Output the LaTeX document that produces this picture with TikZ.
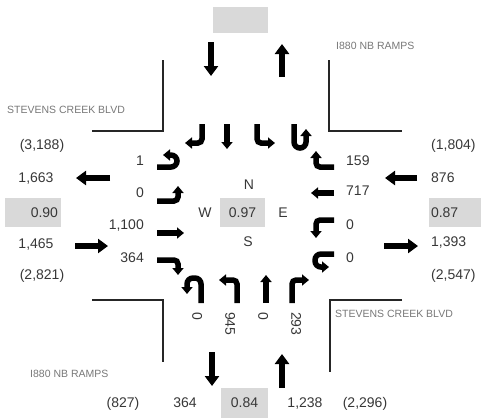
\documentclass[tikz,border=0pt]{standalone}
\usepackage{fontspec}
\setmainfont{Liberation Sans}
\usepackage{tikz}
\usetikzlibrary{positioning,arrows.meta}
\definecolor{boxgray}{RGB}{217,217,217}
\definecolor{txtgray}{RGB}{55,55,55}
\definecolor{lblgray}{RGB}{120,120,120}

\begin{document}
\begin{tikzpicture}[x=1pt, y=-1pt,
  num/.style={font=\fontsize{14}{16}\selectfont, text=txtgray, inner sep=0pt},
  street/.style={font=\fontsize{10.5}{12}\selectfont, text=lblgray, inner sep=0pt},
  vc/.style={num, fill=boxgray, minimum height=29pt},
  curb/.style={line width=2pt, draw=black!85},
  big/.style={line width=6.5pt, -{Triangle[width=14pt,length=10pt]}},
  turn/.style={line width=5.5pt, rounded corners=4pt, -{Triangle[width=11pt,length=7pt]}},
  uturn/.style={turn, rounded corners=6pt}]
  \useasboundingbox (0,0) rectangle (481,418);

  % curb corners
  \draw[curb] (163,60) -- (163,131) -- (92,131);
  \draw[curb] (329,60) -- (329,131) -- (402,131);
  \draw[curb] (92,300) -- (163,300) -- (163,362);
  \draw[curb] (402,300) -- (330,300) -- (330,372);

  % street names
  \node[street, anchor=mid west] (stevw) at (7,111) {STEVENS CREEK BLVD};
  \node[street, anchor=mid west] (stevo) at (335,315) {STEVENS CREEK BLVD};
  \node[street, anchor=mid west] (rampn) at (336,47) {I880 NB RAMPS};
  \node[street, anchor=mid west] (ramps) at (30,375) {I880 NB RAMPS};

  % v/c boxes
  \node[vc, minimum width=55pt, minimum height=26pt] (vcn) at (240.5,20) {};
  \node[vc, minimum width=56pt, text width=50pt, align=right] (vcw) at (33,212.5) {0.90};
  \node[vc, minimum width=52pt, text width=48pt, align=left] (vco) at (455,212.5) {0.87};
  \node[vc, minimum width=45pt] (ctr) at (242.5,212.5) {0.97};
  \node[vc, minimum width=47pt, minimum height=30pt] (vcs) at (244.5,403) {0.84};

  % compass
  \node[num, anchor=mid] (nord) at (249,187) {N};
  \node[num, anchor=mid] (sued) at (248,244) {S};
  \node[num, anchor=mid east, left=8pt of ctr.west] (west) {W};
  \node[num, anchor=mid west, right=13pt of ctr.east] (ost) {E};

  % approach volumes, west side
  \node[num, anchor=mid] (w1) at (42,147) {(3,188)};
  \node[num, anchor=mid] (w2) at (36,180) {1,663};
  \node[num, anchor=mid] (w3) at (36,246) {1,465};
  \node[num, anchor=mid] (w4) at (42,277) {(2,821)};
  \draw[big] (110,178) -- (76,178);
  \draw[big] (75,246) -- (108,246);

  % approach volumes, east side
  \node[num, anchor=mid west] (o1) at (431,147) {(1,804)};
  \node[num, anchor=mid west] (o2) at (431,180) {876};
  \node[num, anchor=mid west] (o3) at (431,244) {1,393};
  \node[num, anchor=mid west] (o4) at (431,277) {(2,547)};
  \draw[big] (417,178) -- (385,178);
  \draw[big] (384,246) -- (418,246);

  % north and south legs
  \draw[big] (211,42) -- (211,76);
  \draw[big] (282,77) -- (282,44);
  \draw[big] (212,352) -- (212,386);
  \draw[big] (282,388) -- (282,354);
  \node[num, anchor=mid] (s1) at (123,405) {(827)};
  \node[num, anchor=mid] (s2) at (185,405) {364};
  \node[num, anchor=mid] (s3) at (305,405) {1,238};
  \node[num, anchor=mid] (s4) at (365,405) {(2,296)};

  % eastbound turns
  \node[num, anchor=mid east] (eb1) at (144,163) {1};
  \node[num, anchor=mid east] (eb2) at (144,195) {0};
  \node[num, anchor=mid east] (eb3) at (144,227) {1,100};
  \node[num, anchor=mid east] (eb4) at (144,260) {364};
  \draw[uturn] (157,167) -- (177,167) -- (177,155) -- (163,155);
  \draw[turn] (157,201) -- (178,201) -- (178,186);
  \draw[turn] (157,233) -- (184,233);
  \draw[turn] (157,260) -- (178,260) -- (178,275);

  % westbound turns
  \node[num, anchor=mid west] (wb1) at (346,163) {159};
  \node[num, anchor=mid west] (wb2) at (346,193) {717};
  \node[num, anchor=mid west] (wb3) at (346,227) {0};
  \node[num, anchor=mid west] (wb4) at (346,260) {0};
  \draw[turn] (334,167) -- (316,167) -- (316,151);
  \draw[turn] (334,193) -- (311,193);
  \draw[turn] (334,220) -- (316,220) -- (316,238);
  \draw[uturn] (334,254) -- (315,254) -- (315,267) -- (329,267);

  % southbound turns
  \draw[turn] (202,124) -- (202,143) -- (185,143);
  \draw[turn] (227,124) -- (227,149);
  \draw[turn] (257,124) -- (257,143) -- (275,143);
  \draw[uturn] (294,124) -- (294,148) -- (306,148) -- (306,129);

  % northbound turns
  \draw[uturn] (201,303) -- (201,278) -- (187,278) -- (187,294);
  \draw[turn] (237,303) -- (237,280) -- (219,280);
  \draw[turn] (266,303) -- (266,275);
  \draw[turn] (292,303) -- (292,280) -- (309,280);
  \node[num, rotate=-90, anchor=mid west] (nb1) at (195,312) {0};
  \node[num, rotate=-90, anchor=mid west] (nb2) at (228,312) {945};
  \node[num, rotate=-90, anchor=mid west] (nb3) at (261,312) {0};
  \node[num, rotate=-90, anchor=mid west] (nb4) at (294,312) {293};
\end{tikzpicture}
\end{document}
